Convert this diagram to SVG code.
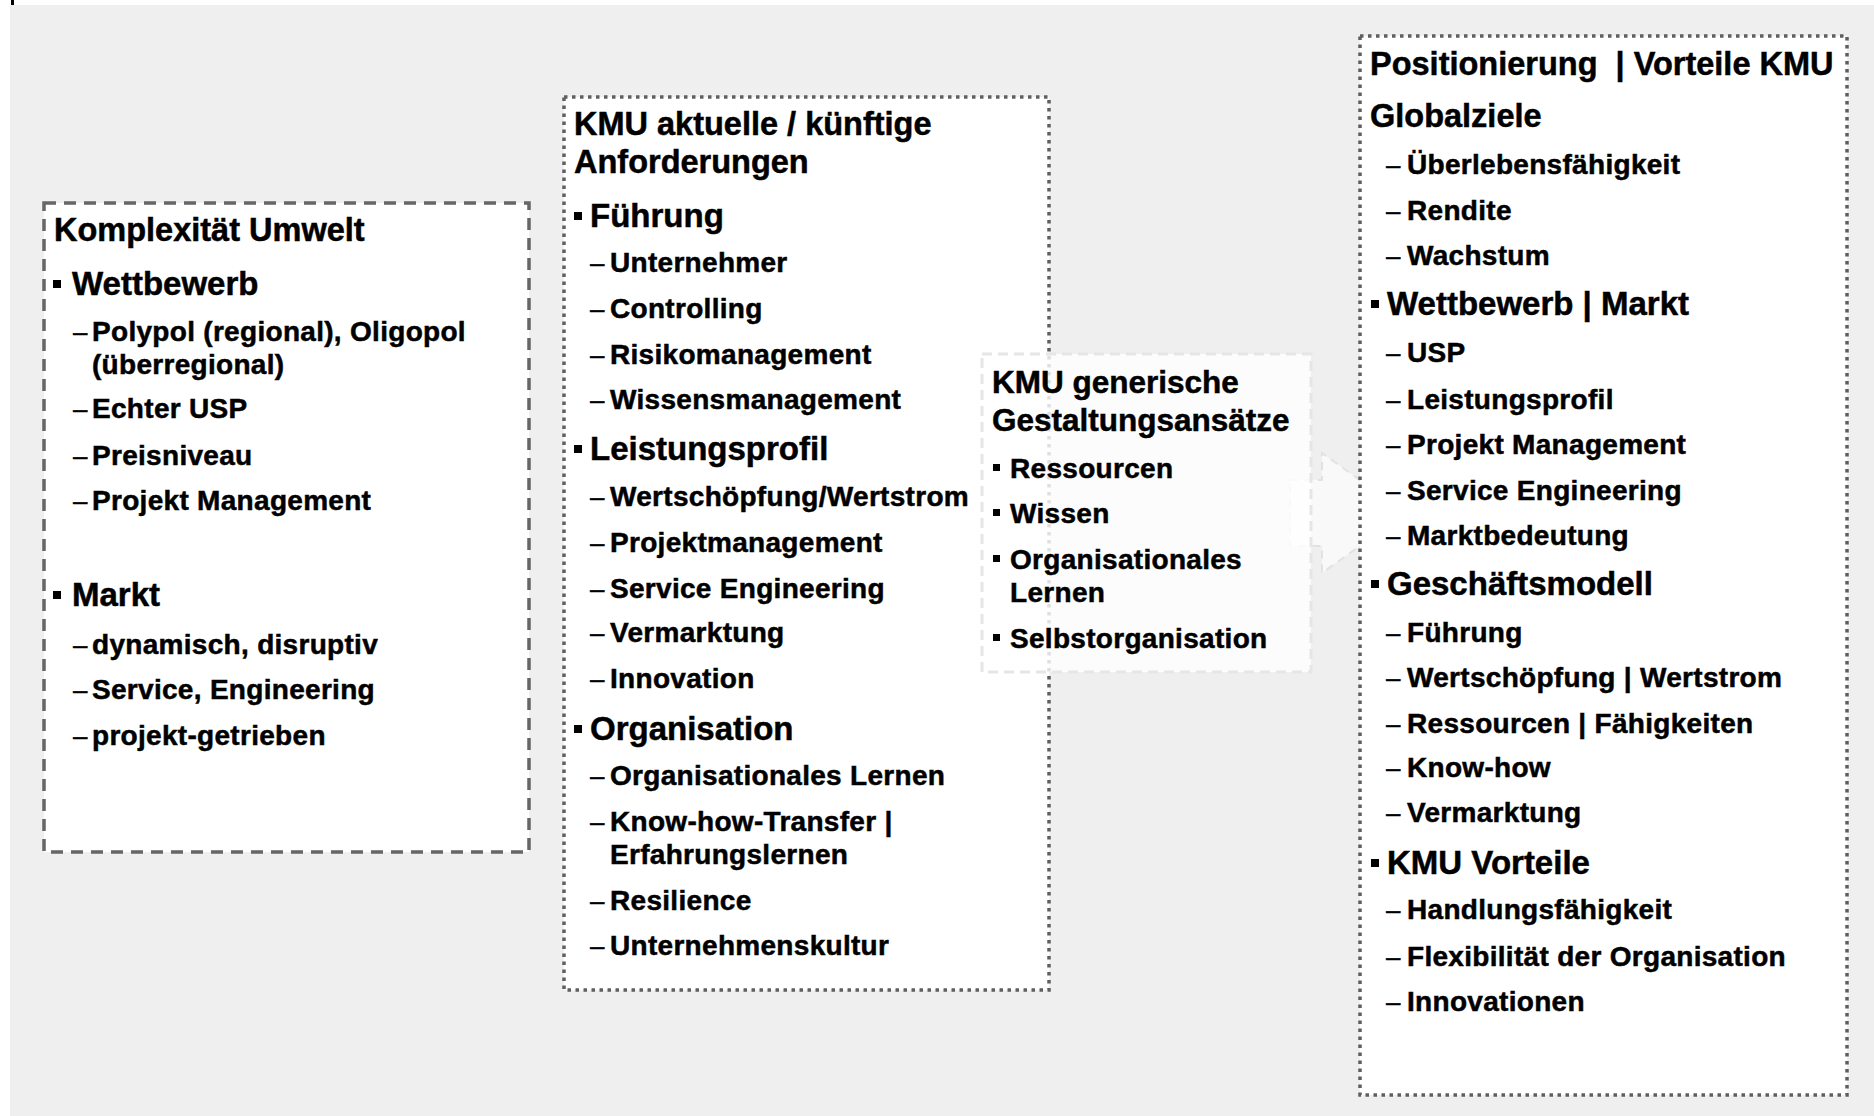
<svg xmlns="http://www.w3.org/2000/svg" width="1874" height="1116" viewBox="0 0 1874 1116">
<style>
text{font-family:"Liberation Sans",Arial,sans-serif;font-weight:bold;fill:#000;stroke:#000;stroke-width:0.5}
.h{font-size:32.5px}
.l1{font-size:33px}
.l2{font-size:28px;letter-spacing:0.3px}
.d{font-size:26px;font-weight:normal;stroke-width:0.3}
.m{font-size:31.5px}
.pre{white-space:pre}
.dash1{fill:#fff;stroke:#666;stroke-width:3.5;stroke-dasharray:12 8}
.dot{fill:#fff;stroke:#5f5f5f;stroke-width:3.5;stroke-dasharray:3.5 4.5}
.bul{fill:#000}
</style>
<rect x="0" y="0" width="1874" height="1116" fill="#fff"/>
<rect x="10" y="5" width="1864" height="1111" fill="#efefef"/>
<rect x="11" y="0" width="3" height="5" fill="#000"/>

<g id="n1">
<rect class="dash1" x="44" y="203" width="485" height="649"/>
<text class="h" x="54" y="241">Komplexität Umwelt</text>
<rect class="bul" x="53" y="280" width="8" height="8"/>
<text class="l1" x="72" y="295">Wettbewerb</text>
<text class="d" x="73" y="341">–</text><text class="l2" x="92" y="341">Polypol (regional), Oligopol</text>
<text class="l2" x="92" y="374">(überregional)</text>
<text class="d" x="73" y="418">–</text><text class="l2" x="92" y="418">Echter USP</text>
<text class="d" x="73" y="465">–</text><text class="l2" x="92" y="465">Preisniveau</text>
<text class="d" x="73" y="510">–</text><text class="l2" x="92" y="510">Projekt Management</text>
<rect class="bul" x="53" y="591" width="8" height="8"/>
<text class="l1" x="72" y="606">Markt</text>
<text class="d" x="73" y="654">–</text><text class="l2" x="92" y="654">dynamisch, disruptiv</text>
<text class="d" x="73" y="699">–</text><text class="l2" x="92" y="699">Service, Engineering</text>
<text class="d" x="73" y="745">–</text><text class="l2" x="92" y="745">projekt-getrieben</text>
</g>

<g id="n2">
<rect class="dot" x="564" y="97" width="485" height="893"/>
<text class="h" x="574" y="135">KMU aktuelle / künftige</text>
<text class="h" x="574" y="173">Anforderungen</text>
<rect class="bul" x="574" y="212" width="8" height="8"/>
<text class="l1" x="590" y="227">Führung</text>
<text class="d" x="590" y="272">–</text><text class="l2" x="610" y="272">Unternehmer</text>
<text class="d" x="590" y="318">–</text><text class="l2" x="610" y="318">Controlling</text>
<text class="d" x="590" y="364">–</text><text class="l2" x="610" y="364">Risikomanagement</text>
<text class="d" x="590" y="409">–</text><text class="l2" x="610" y="409">Wissensmanagement</text>
<rect class="bul" x="574" y="445" width="8" height="8"/>
<text class="l1" x="590" y="460">Leistungsprofil</text>
<text class="d" x="590" y="506">–</text><text class="l2" x="610" y="506">Wertschöpfung/Wertstrom</text>
<text class="d" x="590" y="552">–</text><text class="l2" x="610" y="552">Projektmanagement</text>
<text class="d" x="590" y="598">–</text><text class="l2" x="610" y="598">Service Engineering</text>
<text class="d" x="590" y="642">–</text><text class="l2" x="610" y="642">Vermarktung</text>
<text class="d" x="590" y="688">–</text><text class="l2" x="610" y="688">Innovation</text>
<rect class="bul" x="574" y="725" width="8" height="8"/>
<text class="l1" x="590" y="740">Organisation</text>
<text class="d" x="590" y="785">–</text><text class="l2" x="610" y="785">Organisationales Lernen</text>
<text class="d" x="590" y="831">–</text><text class="l2" x="610" y="831">Know-how-Transfer |</text>
<text class="l2" x="610" y="864">Erfahrungslernen</text>
<text class="d" x="590" y="910">–</text><text class="l2" x="610" y="910">Resilience</text>
<text class="d" x="590" y="955">–</text><text class="l2" x="610" y="955">Unternehmenskultur</text>
</g>

<g id="connectors">
<polygon points="1290,480 1322,480 1322,453 1406,513 1322,573 1322,546 1290,546" fill="#fff" fill-opacity="0.6" stroke="#e2e2e2" stroke-width="2" stroke-dasharray="8 6"/>
</g>

<g id="n3">
<rect x="982" y="354" width="329" height="318" fill="#fff" fill-opacity="0.8" stroke="#e6e6e6" stroke-width="3" stroke-dasharray="10 6"/>
<text class="m" x="992" y="393">KMU generische</text>
<text class="m" x="992" y="431">Gestaltungsansätze</text>
<rect class="bul" x="993" y="464" width="7" height="7"/>
<text class="l2" x="1010" y="478">Ressourcen</text>
<rect class="bul" x="993" y="509" width="7" height="7"/>
<text class="l2" x="1010" y="523">Wissen</text>
<rect class="bul" x="993" y="555" width="7" height="7"/>
<text class="l2" x="1010" y="569">Organisationales</text>
<text class="l2" x="1010" y="602">Lernen</text>
<rect class="bul" x="993" y="634" width="7" height="7"/>
<text class="l2" x="1010" y="648">Selbstorganisation</text>
</g>

<g id="n4">
<rect class="dot" x="1360" y="36" width="487" height="1059" fill-opacity="0.95"/>
<text class="h pre" x="1370" y="75">Positionierung  | Vorteile KMU</text>
<text class="h" x="1370" y="127">Globalziele</text>
<text class="d" x="1386" y="174">–</text><text class="l2" x="1407" y="174">Überlebensfähigkeit</text>
<text class="d" x="1386" y="220">–</text><text class="l2" x="1407" y="220">Rendite</text>
<text class="d" x="1386" y="265">–</text><text class="l2" x="1407" y="265">Wachstum</text>
<rect class="bul" x="1371" y="300" width="8" height="8"/>
<text class="l1" x="1387" y="315">Wettbewerb | Markt</text>
<text class="d" x="1386" y="362">–</text><text class="l2" x="1407" y="362">USP</text>
<text class="d" x="1386" y="409">–</text><text class="l2" x="1407" y="409">Leistungsprofil</text>
<text class="d" x="1386" y="454">–</text><text class="l2" x="1407" y="454">Projekt Management</text>
<text class="d" x="1386" y="500">–</text><text class="l2" x="1407" y="500">Service Engineering</text>
<text class="d" x="1386" y="545">–</text><text class="l2" x="1407" y="545">Marktbedeutung</text>
<rect class="bul" x="1371" y="580" width="8" height="8"/>
<text class="l1" x="1387" y="595">Geschäftsmodell</text>
<text class="d" x="1386" y="642">–</text><text class="l2" x="1407" y="642">Führung</text>
<text class="d" x="1386" y="687">–</text><text class="l2" x="1407" y="687">Wertschöpfung | Wertstrom</text>
<text class="d" x="1386" y="733">–</text><text class="l2" x="1407" y="733">Ressourcen | Fähigkeiten</text>
<text class="d" x="1386" y="777">–</text><text class="l2" x="1407" y="777">Know-how</text>
<text class="d" x="1386" y="822">–</text><text class="l2" x="1407" y="822">Vermarktung</text>
<rect class="bul" x="1371" y="859" width="8" height="8"/>
<text class="l1" x="1387" y="874">KMU Vorteile</text>
<text class="d" x="1386" y="919">–</text><text class="l2" x="1407" y="919">Handlungsfähigkeit</text>
<text class="d" x="1386" y="966">–</text><text class="l2" x="1407" y="966">Flexibilität der Organisation</text>
<text class="d" x="1386" y="1011">–</text><text class="l2" x="1407" y="1011">Innovationen</text>
</g>
</svg>
